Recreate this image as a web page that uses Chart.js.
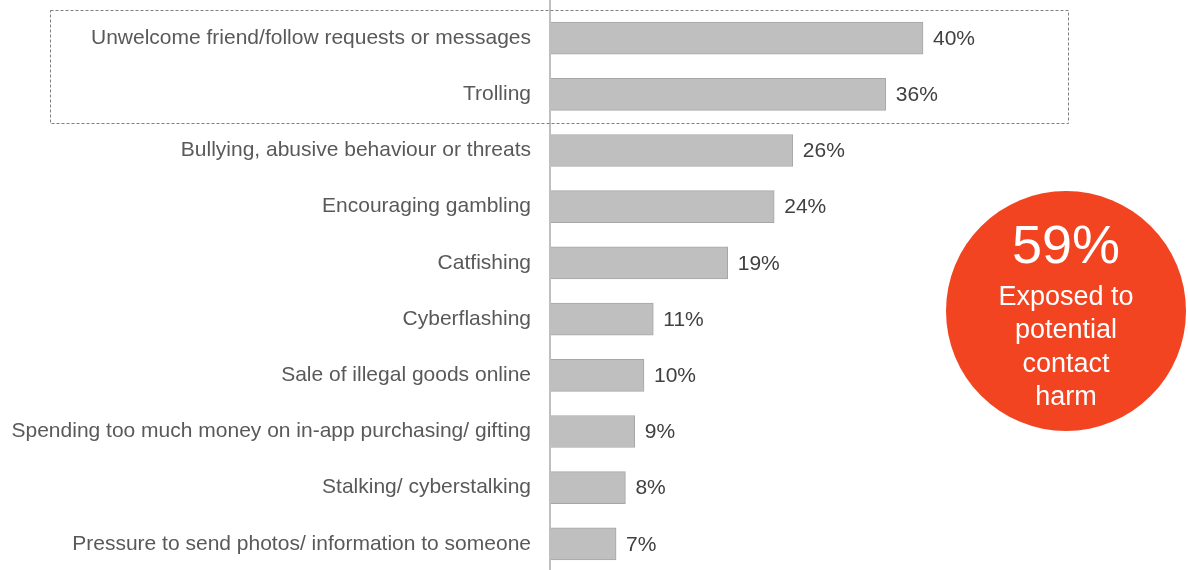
<!DOCTYPE html>
<html>
<head>
<meta charset="utf-8">
<script src="https://cdn.jsdelivr.net/npm/chart.js@4.4.1/dist/chart.umd.min.js"></script>
<style>
  html, body { margin: 0; padding: 0; background: #fff; overflow: hidden; }
  canvas { display: block; }
</style>
</head>
<body>
<canvas id="chart-contact-harm" width="1188" height="572"></canvas>
<script>
var categories = [
  "Unwelcome friend/follow requests or messages",
  "Trolling",
  "Bullying, abusive behaviour or threats",
  "Encouraging gambling",
  "Catfishing",
  "Cyberflashing",
  "Sale of illegal goods online",
  "Spending too much money on in-app purchasing/ gifting",
  "Stalking/ cyberstalking",
  "Pressure to send photos/ information to someone"
];
var percentages = [40, 36, 26, 24, 19, 11, 10, 9, 8, 7];
var highlightRows = [0, 1]; // rows inside the dashed box
var calloutValue = "59%";
var calloutLines = ["Exposed to", "potential", "contact", "harm"];

var FONT = "'Liberation Sans', Arial, sans-serif";

// axis line running the full height, dashed box and the value labels
var extras = {
  id: "extras",
  beforeDatasetsDraw: function (chart) {
    var ctx = chart.ctx;
    var area = chart.chartArea;
    ctx.save();
    ctx.strokeStyle = "#bfbfbf";
    ctx.lineWidth = 2;
    ctx.beginPath();
    ctx.moveTo(area.left - 1, 0);
    ctx.lineTo(area.left - 1, chart.height);
    ctx.stroke();
    ctx.restore();
  },
  afterDatasetsDraw: function (chart) {
    var ctx = chart.ctx;
    var y = chart.scales.y;
    var meta = chart.getDatasetMeta(0);
    var half = (y.getPixelForValue(1) - y.getPixelForValue(0)) / 2;

    ctx.save();
    // dashed box round the first rows
    var top = y.getPixelForValue(highlightRows[0]) - half;
    var bottom = y.getPixelForValue(highlightRows[highlightRows.length - 1]) + half + 1;
    ctx.strokeStyle = "#7f7f7f";
    ctx.lineWidth = 1;
    ctx.setLineDash([3, 2]);
    ctx.strokeRect(50.5, Math.round(top) + 0.5, 1018, Math.round(bottom - top));
    ctx.setLineDash([]);

    // values at the end of each bar
    ctx.fillStyle = "#404040";
    ctx.font = "21px " + FONT;
    ctx.textAlign = "left";
    ctx.textBaseline = "middle";
    meta.data.forEach(function (bar, i) {
      ctx.fillText(percentages[i] + "%", bar.x + 10, bar.y + 1);
    });

    // red callout circle
    var cx = 1066, cy = 311;
    ctx.fillStyle = "#f24420";
    ctx.beginPath();
    ctx.arc(cx, cy, 120, 0, Math.PI * 2);
    ctx.fill();
    ctx.fillStyle = "#ffffff";
    ctx.textAlign = "center";
    ctx.textBaseline = "alphabetic";
    ctx.font = "54px " + FONT;
    ctx.fillText(calloutValue, cx, 263);
    ctx.font = "27px " + FONT;
    calloutLines.forEach(function (line, i) {
      ctx.fillText(line, cx, 305 + i * 33.4);
    });
    ctx.restore();
  }
};

new Chart("chart-contact-harm", {
  type: "bar",
  data: {
    labels: categories,
    datasets: [{
      data: percentages,
      backgroundColor: "#bfbfbf",
      borderColor: "#a6a6a6",
      borderWidth: 1,
      borderSkipped: "left",
      barThickness: 32
    }]
  },
  options: {
    indexAxis: "y",
    responsive: false,
    animation: false,
    layout: { padding: { top: 10, right: 79, bottom: 0, left: 0 } },
    plugins: {
      legend: { display: false },
      tooltip: { enabled: false }
    },
    scales: {
      x: {
        display: false,
        min: 0,
        max: 60
      },
      y: {
        afterFit: function (scale) {
          scale.width = 551;
          scale.paddingTop = 0;
          scale.paddingBottom = 0;
        },
        grid: { display: false, drawTicks: false },
        border: { display: false },
        ticks: {
          padding: 20,
          color: "#595959",
          font: { family: FONT, size: 21 }
        }
      }
    }
  },
  plugins: [extras]
});
</script>
</body>
</html>
